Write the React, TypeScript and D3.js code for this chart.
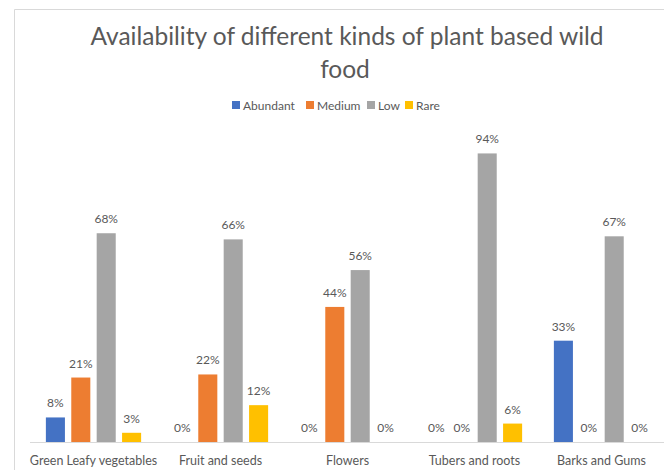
import React from "react";
import * as d3 from "d3";

const categories = [
  "Green Leafy vegetables",
  "Fruit and seeds",
  "Flowers",
  "Tubers and roots",
  "Barks and Gums",
];
const seriesNames = ["Abundant", "Medium", "Low", "Rare"];
const abundant = [8, 0, 0, 0, 33];
const medium = [21, 22, 44, 0, 0];
const low = [68, 66, 56, 94, 67];
const rare = [3, 12, 0, 6, 0];
const seriesColors = ["#4472C4", "#ED7D31", "#A5A5A5", "#FFC000"];

const W = 664;
const H = 470;
const FONT = "Lato, 'Open Sans', sans-serif";
const TEXT = "#595959";

export default function App() {
  const seriesValues = [abundant, medium, low, rare];

  const x0 = d3.scaleBand<string>().domain(categories).range([30, 665]).paddingInner(0.25).paddingOuter(0.125);
  const x1 = d3
    .scaleBand<string>()
    .domain(seriesNames)
    .range([0, x0.bandwidth()])
    .paddingInner(0.25);
  const y = d3.scaleLinear().domain([0, 100]).range([442, 135]);

  const legendX = [232, 306, 367, 405];

  return (
    <div style={{ position: "absolute", left: 0, top: 0 }}>
      <svg width={W} height={H} style={{ display: "block" }}>
        <rect x={0} y={0} width={W} height={H} fill="#ffffff" />
        <path d={`M14.5,${H} V9.5 H${W}`} fill="none" stroke="#D9D9D9" strokeWidth={1} />

        <text x={347} y={45} textAnchor="middle" fontFamily={FONT} fontSize={24.5} fill={TEXT}>
          Availability of different kinds of plant based wild
        </text>
        <text x={345} y={78} textAnchor="middle" fontFamily={FONT} fontSize={24.5} fill={TEXT}>
          food
        </text>

        {seriesNames.map((s, i) => (
          <g key={s}>
            <rect x={legendX[i]} y={101} width={8} height={8} fill={seriesColors[i]} />
            <text x={legendX[i] + 11} y={109.5} fontFamily={FONT} fontSize={12} fill={TEXT}>
              {s}
            </text>
          </g>
        ))}

        <line x1={30} x2={664} y1={442.5} y2={442.5} stroke="#D9D9D9" strokeWidth={1} />

        {categories.map((c, ci) => (
          <g key={c} transform={`translate(${x0(c)},0)`}>
            {seriesNames.map((s, si) => {
              const v = seriesValues[si][ci];
              const bx = x1(s)!;
              return (
                <g key={s}>
                  {v > 0 && (
                    <rect x={bx} y={y(v)} width={x1.bandwidth()} height={y(0) - y(v)} fill={seriesColors[si]} />
                  )}
                  <text
                    x={bx + x1.bandwidth() / 2}
                    y={y(v) - 10}
                    textAnchor="middle"
                    fontFamily={FONT}
                    fontSize={12}
                    fill={TEXT}
                  >
                    {`${v}%`}
                  </text>
                </g>
              );
            })}
            <text
              x={x0.bandwidth() / 2}
              y={465}
              textAnchor="middle"
              fontFamily={FONT}
              fontSize={12.5}
              fill={TEXT}
            >
              {c}
            </text>
          </g>
        ))}
      </svg>
    </div>
  );
}
